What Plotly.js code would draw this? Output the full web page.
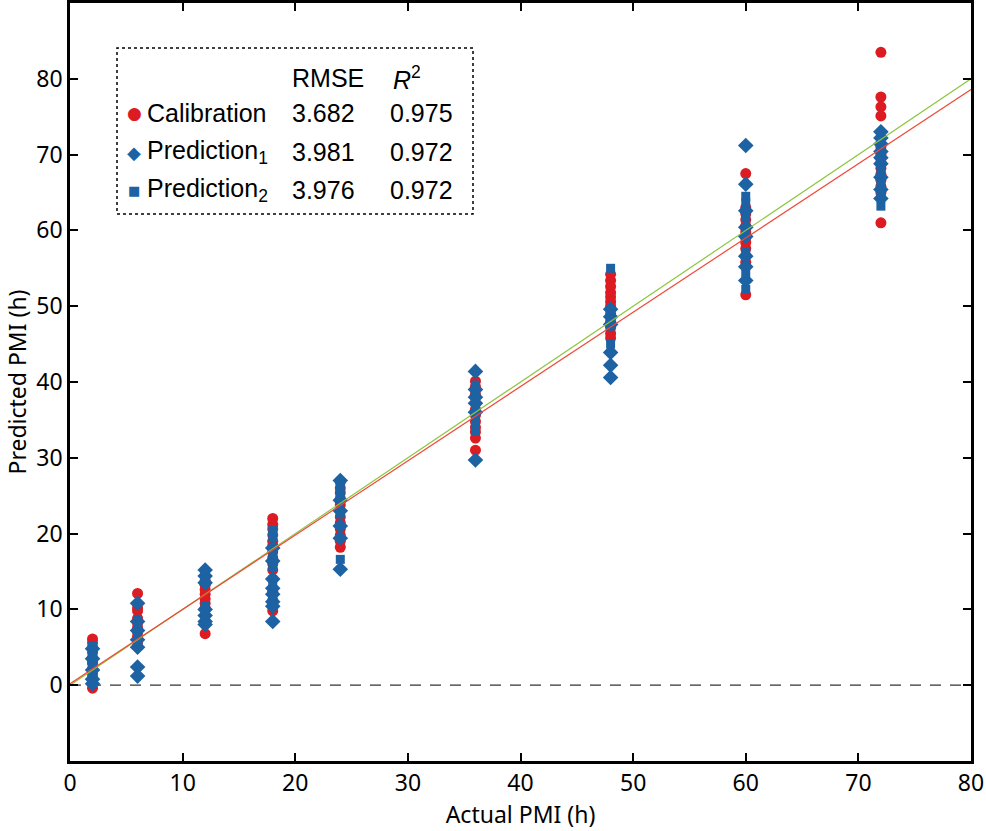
<!DOCTYPE html>
<html>
<head>
<meta charset="utf-8">
<script src="https://cdn.plot.ly/plotly-3.0.1.min.js"></script>
<style>html,body{margin:0;padding:0;background:#fff;}#chart{width:986px;height:831px;}</style>
</head>
<body>
<div id="chart"></div>
<script>
// Actual PMI groups (h)
const groups = [2, 6, 12, 18, 24, 36, 48, 60, 72];

// Predicted PMI per group
const calibration = [
  [6.1, 5.6, 5.0, 4.3, 3.6, 3.0, 2.9, 2.2, 1.5, 1.0, 0.8, 0.2, -0.4],
  [12.1, 10.2, 9.8, 8.8, 8.2, 7.6, 7.0, 6.4, 6.0, 5.6],
  [13.8, 13.2, 12.6, 12.0, 11.4, 10.8, 10.2, 6.8],
  [22.0, 21.2, 20.6, 19.8, 19.0, 18.4, 17.6, 16.8, 16.0, 15.2, 14.0, 12.4, 11.2, 9.8],
  [26.8, 26.0, 25.4, 24.6, 23.8, 23.0, 22.2, 21.4, 20.6, 19.8, 19.0, 18.2],
  [40.1, 39.4, 38.4, 37.2, 36.4, 35.6, 34.8, 34.0, 33.4, 32.6, 31.0],
  [54.2, 53.4, 52.6, 51.8, 51.2, 50.6, 50.0, 49.0, 48.0, 47.2, 46.4, 45.8],
  [67.5, 63.0, 62.2, 61.4, 60.6, 59.8, 59.0, 58.4, 57.6, 56.6, 55.8, 51.5],
  [83.5, 77.6, 76.3, 75.1, 71.0, 70.0, 69.0, 68.2, 67.4, 66.6, 65.8, 65.0, 61.0]
];
const prediction1 = [
  [4.8, 3.5, 2.0, 0.8, 0.2],
  [10.8, 8.4, 7.2, 6.0, 5.0, 2.4, 1.2],
  [15.2, 14.4, 13.5, 10.0, 9.2, 8.4, 8.0],
  [18.1, 16.4, 14.0, 12.8, 12.0, 11.0, 10.4, 8.4],
  [27.0, 24.4, 23.0, 21.0, 19.4, 15.3],
  [41.4, 39.0, 38.0, 37.2, 36.0, 29.7],
  [49.6, 48.6, 47.6, 43.9, 42.2, 40.6],
  [71.2, 66.1, 62.6, 60.4, 59.2, 56.6, 55.2, 53.4],
  [73.0, 72.2, 71.4, 70.4, 69.6, 68.8, 67.0, 65.4, 64.2]
];
const prediction2 = [
  [5.2, 4.5, 3.8, 3.0, 2.4, 1.6, 1.0, 0.4],
  [8.6, 7.8, 7.0, 6.4, 5.8],
  [14.8, 14.0, 10.5, 9.6, 8.8],
  [20.4, 19.6, 17.2, 15.6, 13.2, 11.6],
  [26.4, 25.6, 24.8, 22.6, 16.6],
  [39.6, 38.6, 35.8, 35.0, 34.2, 33.6],
  [55.0, 49.0, 48.2, 47.4, 45.0],
  [64.5, 63.6, 61.8, 57.2, 54.4, 52.2],
  [71.8, 70.8, 69.2, 68.0, 66.2, 64.8, 63.2]
];

// Reference / fit lines
const lineX = [0, 80];
const idealY = [0, 80];
const fitY = [0.2, 78.6];
const zeroY = [0, 0];

// Legend table
const seriesNames = ['Calibration', 'Prediction<sub>1</sub>', 'Prediction<sub>2</sub>'];
const rmseVals = ['3.682', '3.981', '3.976'];
const r2Vals = ['0.975', '0.972', '0.972'];

const RED = '#dc1c22';
const BLUE = '#1d62a3';

function flatten(series) {
  const xs = [], ys = [];
  series.forEach((vals, i) => vals.forEach(v => { xs.push(groups[i]); ys.push(v); }));
  return {x: xs, y: ys};
}
const c = flatten(calibration), p1 = flatten(prediction1), p2 = flatten(prediction2);

const traces = [
  {x: lineX, y: zeroY, mode: 'lines', line: {color: '#333', width: 1.2, dash: '11px,9px'}},
  {x: c.x, y: c.y, mode: 'markers', marker: {symbol: 'circle', size: 11, color: RED}},
  {x: p1.x, y: p1.y, mode: 'markers', marker: {symbol: 'diamond', size: 12, color: BLUE}},
  {x: p2.x, y: p2.y, mode: 'markers', marker: {symbol: 'square', size: 9, color: BLUE}},
  {x: lineX, y: idealY, mode: 'lines', line: {color: '#8cc63f', width: 1.2}},
  {x: lineX, y: fitY, mode: 'lines', line: {color: '#ee4a3a', width: 1.2}}
];

const FONT = 'Liberation Sans, Arial, sans-serif';
const AXFONT = 'Noto Sans, Open Sans, sans-serif';

// legend layout in paper coordinates
const L = 70, R = 971, T = 3, B = 761;
const px = v => (v - L) / (R - L);
const py = v => (B - v) / (B - T);
const rowY = [113, 152, 190];
const symbols = ['●', '◆', '■'];
const symSize = [17, 18, 13];

const ann = [];
ann.push({xref: 'paper', yref: 'paper', x: px(290), y: py(78), xanchor: 'left', yanchor: 'middle', text: 'RMSE', showarrow: false, font: {family: FONT, size: 25, color: '#000'}});
ann.push({xref: 'paper', yref: 'paper', x: px(391), y: py(78), xanchor: 'left', yanchor: 'middle', text: '<i>R</i><sup>2</sup>', showarrow: false, font: {family: FONT, size: 25, color: '#000'}});
for (let i = 0; i < 3; i++) {
  ann.push({xref: 'paper', yref: 'paper', x: px(134), y: py(rowY[i]), xanchor: 'center', yanchor: 'middle', text: symbols[i], showarrow: false, font: {family: 'DejaVu Sans', size: symSize[i], color: i === 0 ? RED : BLUE}});
  ann.push({xref: 'paper', yref: 'paper', x: px(145), y: py(rowY[i]), xanchor: 'left', yanchor: 'middle', text: seriesNames[i], showarrow: false, font: {family: FONT, size: 25, color: '#000'}});
  ann.push({xref: 'paper', yref: 'paper', x: px(290), y: py(rowY[i]), xanchor: 'left', yanchor: 'middle', text: rmseVals[i], showarrow: false, font: {family: FONT, size: 25, color: '#000'}});
  ann.push({xref: 'paper', yref: 'paper', x: px(388), y: py(rowY[i]), xanchor: 'left', yanchor: 'middle', text: r2Vals[i], showarrow: false, font: {family: FONT, size: 25, color: '#000'}});
}

const layout = {
  width: 986, height: 831,
  margin: {l: L, r: 986 - R, t: T, b: 831 - B},
  paper_bgcolor: '#fff', plot_bgcolor: '#fff',
  showlegend: false,
  hovermode: false,
  xaxis: {
    range: [0, 80], tickvals: [0, 10, 20, 30, 40, 50, 60, 70, 80],
    ticks: 'inside', ticklen: 8, tickwidth: 2, tickcolor: '#000',
    showline: true, linewidth: 2.8, linecolor: '#000', mirror: 'ticks',
    showgrid: false, zeroline: false,
    tickfont: {family: AXFONT, size: 23, color: '#000'},
    title: {text: 'Actual PMI (h)', font: {family: AXFONT, size: 23, color: '#000'}, standoff: 6}
  },
  yaxis: {
    range: [-10, 90], tickvals: [0, 10, 20, 30, 40, 50, 60, 70, 80],
    ticks: 'inside', ticklen: 8, tickwidth: 2, tickcolor: '#000',
    showline: true, linewidth: 2.8, linecolor: '#000', mirror: 'ticks',
    showgrid: false, zeroline: false,
    tickfont: {family: AXFONT, size: 23, color: '#000'},
    title: {text: 'Predicted PMI (h)', font: {family: AXFONT, size: 23, color: '#000'}, standoff: 4}
  },
  shapes: [{type: 'rect', xref: 'paper', yref: 'paper', x0: px(117), x1: px(473), y0: py(214), y1: py(48),
            line: {color: '#000', width: 1.5, dash: 'dot'}, fillcolor: '#fff', layer: 'above'}],
  annotations: ann
};

Plotly.newPlot('chart', traces, layout, {staticPlot: true, displayModeBar: false});
</script>
</body>
</html>
